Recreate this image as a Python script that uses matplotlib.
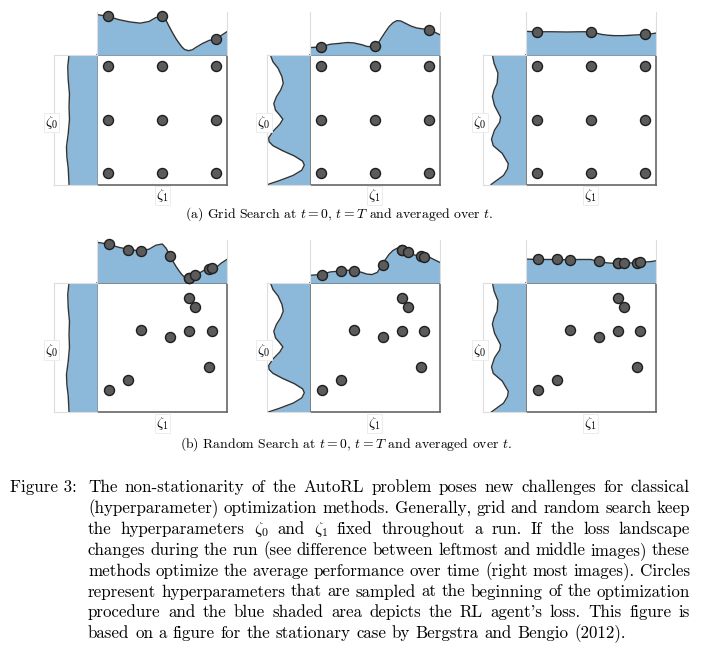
import numpy as np
import matplotlib
matplotlib.use("Agg")
from matplotlib import pyplot as plt

plt.rcParams["font.family"] = "cmr10"
plt.rcParams["mathtext.fontset"] = "cm"
plt.rcParams["axes.unicode_minus"] = False

# --- loss curves along zeta_1 (top marginals), one per column: t=0, t=T, averaged
top_x = [
    [0, 0.082, 0.17, 0.25, 0.33, 0.40, 0.45, 0.50, 0.53, 0.55, 0.58, 0.605, 0.63, 0.65, 0.67, 0.70, 0.73, 0.76, 0.81, 0.86, 0.92, 0.95, 1.0],
    [0, 0.082, 0.16, 0.23, 0.29, 0.34, 0.40, 0.44, 0.48, 0.52, 0.55, 0.58, 0.61, 0.64, 0.67, 0.70, 0.74, 0.78, 0.82, 0.86, 0.92, 0.96, 1.0],
    [0, 0.08, 0.2, 0.32, 0.42, 0.50, 0.54, 0.58, 0.63, 0.68, 0.75, 0.81, 0.87, 0.91, 0.96, 1.0],
]
top_y = [
    [0.94, 0.90, 0.82, 0.77, 0.74, 0.78, 0.87, 0.90, 0.80, 0.68, 0.51, 0.38, 0.27, 0.19, 0.13, 0.10, 0.12, 0.18, 0.27, 0.34, 0.37, 0.45, 0.55],
    [0.17, 0.19, 0.25, 0.27, 0.29, 0.28, 0.24, 0.20, 0.19, 0.24, 0.39, 0.53, 0.66, 0.75, 0.80, 0.79, 0.73, 0.67, 0.63, 0.61, 0.59, 0.53, 0.47],
    [0.55, 0.54, 0.54, 0.535, 0.54, 0.54, 0.51, 0.48, 0.46, 0.45, 0.45, 0.46, 0.47, 0.48, 0.49, 0.51],
]

# --- loss curves along zeta_0 (left marginals)
left_y = [
    [0, 0.13, 0.21, 0.29, 0.39, 0.50, 0.60, 0.70, 0.81, 0.91, 1.0],
    [0.0, 0.03, 0.07, 0.11, 0.15, 0.18, 0.22, 0.26, 0.30, 0.33, 0.36, 0.41, 0.465, 0.504, 0.535, 0.574, 0.625, 0.677, 0.729, 0.780, 0.832, 0.897, 0.948, 1.0],
    [0.0, 0.07, 0.12, 0.16, 0.24, 0.30, 0.35, 0.42, 0.48, 0.52, 0.61, 0.68, 0.73, 0.78, 0.86, 0.935, 1.0],
]
left_x = [
    [0.35, 0.33, 0.30, 0.29, 0.33, 0.36, 0.35, 0.36, 0.33, 0.32, 0.35],
    [0.03, 0.30, 0.62, 0.82, 0.88, 0.84, 0.65, 0.38, 0.15, 0.06, 0.05, 0.15, 0.31, 0.38, 0.31, 0.21, 0.17, 0.23, 0.33, 0.39, 0.36, 0.27, 0.15, 0.09],
    [0.20, 0.49, 0.58, 0.60, 0.46, 0.25, 0.21, 0.28, 0.40, 0.42, 0.28, 0.23, 0.27, 0.34, 0.36, 0.27, 0.23],
]

# --- grid search
grid_levels = [0.085, 0.5, 0.915]
grid_top_y = [[0.90, 0.90, 0.37], [0.19, 0.21, 0.59], [0.54, 0.54, 0.48]]

# --- random search
rand_z1 = [0.092, 0.239, 0.338, 0.560, 0.705, 0.705, 0.753, 0.857, 0.880]
rand_z0 = [0.172, 0.252, 0.633, 0.579, 0.630, 0.882, 0.810, 0.350, 0.630]
rand_top_y = [
    [0.90, 0.77, 0.74, 0.62, 0.10, 0.10, 0.17, 0.33, 0.35],
    [0.18, 0.27, 0.28, 0.40, 0.77, 0.77, 0.71, 0.61, 0.60],
    [0.54, 0.54, 0.535, 0.50, 0.45, 0.45, 0.45, 0.465, 0.47],
]

sub_captions = [r"(a) Grid Search at $t = 0$, $t = T$ and averaged over $t$.",
                r"(b) Random Search at $t = 0$, $t = T$ and averaged over $t$."]

caption_label = "Figure 3:"
caption_lines = [
    "The non-stationarity of the AutoRL problem poses new challenges for classical",
    "(hyperparameter) optimization methods. Generally, grid and random search keep",
    r"the hyperparameters $\zeta_0$ and $\zeta_1$ fixed throughout a run. If the loss landscape",
    "changes during the run (see difference between leftmost and middle images) these",
    "methods optimize the average performance over time (right most images). Circles",
    "represent hyperparameters that are sampled at the beginning of the optimization",
    "procedure and the blue shaded area depicts the RL agent's loss. This figure is",
    "based on a figure for the stationary case by Bergstra and Bengio (2012).",
]

W, H = 705, 657
fig = plt.figure(figsize=(W / 100, H / 100), dpi=100)


def rect(x, y, w, h):
    return [x / W, 1 - (y + h) / H, w / W, h / H]


blue = "#8cb9d9"
line_c = "#333333"
dot_face = "#5b5b5b"
dot_edge = "#1e1e1e"
light = "#dddddd"
main_left = [97, 309.5, 525.5]
main_w, main_h = 130.5, 129.5
row_top = [55, 282.7]
marg = 43

for row in range(2):
    if row == 0:
        gx, gy = np.meshgrid(grid_levels, grid_levels)
        pts_x, pts_y = gx.ravel(), gy.ravel()
        top_px = grid_levels
    else:
        pts_x, pts_y = rand_z1, rand_z0
        top_px = rand_z1
    for col in range(3):
        x0, y0 = main_left[col], row_top[row]

        ax = fig.add_axes(rect(x0, y0, main_w, main_h))
        ax.set_xlim(0, 1)
        ax.set_ylim(0, 1)
        ax.set_xticks([])
        ax.set_yticks([])
        for s in ax.spines.values():
            s.set_color("#666666")
            s.set_linewidth(1.2)
        ax.scatter(pts_x, pts_y, s=52, facecolor=dot_face, edgecolor=dot_edge,
                   linewidths=1.0, zorder=5, clip_on=False)
        ax.text(0.5, -0.02, r"$\zeta_1$", transform=ax.transAxes, ha="center", va="top",
                fontsize=10.5, bbox=dict(boxstyle="square,pad=0.08", fc="white", ec="#ececec", lw=0.7))

        # top marginal
        axt = fig.add_axes(rect(x0, y0 - marg, main_w, marg))
        axt.set_xlim(0, 1)
        axt.set_ylim(0, 1)
        axt.fill_between(top_x[col], 0, top_y[col], color=blue, lw=0)
        axt.plot(top_x[col], top_y[col], color=line_c, lw=1.0)
        ty = grid_top_y[col] if row == 0 else rand_top_y[col]
        axt.scatter(top_px, ty, s=52, facecolor=dot_face, edgecolor=dot_edge,
                    linewidths=1.0, zorder=5, clip_on=False)
        axt.set_xticks([])
        axt.set_yticks([])
        axt.spines["top"].set_visible(False)
        axt.spines["bottom"].set_visible(False)
        for k in ["left", "right"]:
            axt.spines[k].set_color(light)
            axt.spines[k].set_linewidth(0.8)

        # left marginal
        axl = fig.add_axes(rect(x0 - marg, y0, marg, main_h))
        axl.set_xlim(0, 1)
        axl.set_ylim(0, 1)
        axl.fill_betweenx(left_y[col], left_x[col], 1, color=blue, lw=0)
        axl.plot(left_x[col], left_y[col], color=line_c, lw=1.0)
        axl.set_xticks([])
        axl.set_yticks([])
        axl.spines["right"].set_visible(False)
        for k in ["left", "top", "bottom"]:
            axl.spines[k].set_color(light)
            axl.spines[k].set_linewidth(0.8)
        axl.text(-0.06, 0.48, r"$\zeta_0$", transform=axl.transAxes, ha="center", va="center",
                 fontsize=10.5, bbox=dict(boxstyle="square,pad=0.08", fc="white", ec="#ececec", lw=0.7))

fig.text(339 / W, 1 - 214 / H, sub_captions[0], ha="center", va="center", fontsize=9.9)
fig.text(346 / W, 1 - 444 / H, sub_captions[1], ha="center", va="center", fontsize=9.9)

# justified caption
cap_fs = 12.2
cap_x0, cap_x1 = 88, 690
cap_y0, cap_dy = 487, 20.9
renderer = fig.canvas.get_renderer()
fig.text(10 / W, 1 - (cap_y0 + 5) / H, caption_label, fontsize=cap_fs, va="baseline")
for i, line in enumerate(caption_lines):
    yb = 1 - (cap_y0 + i * cap_dy + 5) / H
    words = line.split(" ")
    texts = [fig.text(0, yb, w, fontsize=cap_fs, va="baseline") for w in words]
    widths = [t.get_window_extent(renderer).width for t in texts]
    if i < len(caption_lines) - 1:
        gap = (cap_x1 - cap_x0 - sum(widths)) / (len(words) - 1)
    else:
        gap = cap_fs * 100 / 72 * 0.333
    x = cap_x0
    for t, w in zip(texts, widths):
        t.set_x(x / W)
        x += w + gap

fig.savefig("out.png", dpi=100)
